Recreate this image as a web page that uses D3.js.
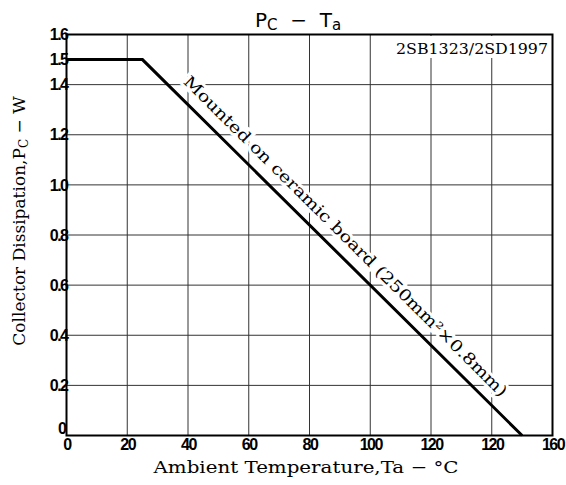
<!DOCTYPE html>
<html>
<head>
<meta charset="utf-8">
<script src="https://cdn.jsdelivr.net/npm/d3@7"></script>
<style>
  body { margin: 0; background: #fff; }
  svg { display: block; }
</style>
</head>
<body>
<div id="chart"></div>
<script>
// derating curve Pc - Ta
const temps = [0, 25, 150];
const power = [1.5, 1.5, 0];

const xTicks = [0, 20, 40, 60, 80, 100, 120, 140, 160];
const xTickLabels = ["0", "20", "40", "60", "80", "100", "120", "120", "160"];
const yGrid = [0.2, 0.4, 0.6, 0.8, 1.0, 1.2, 1.4];
const yTicks = [0, 0.2, 0.4, 0.6, 0.8, 1.0, 1.2, 1.4, 1.5, 1.6];
const yTickLabels = ["0", "0.2", "0.4", "0.6", "0.8", "1.0", "1.2", "1.4", "1.5", "1.6"];

const W = 566, H = 485;
const plot = { left: 66.5, right: 552.5, top: 34.5, bottom: 435.5 };

const svg = d3.select("#chart").append("svg")
    .attr("width", W)
    .attr("height", H);

// scales
const x = d3.scaleLinear().domain([0, 160]).range([plot.left, plot.right]);
const y = d3.scaleLinear().domain([0, 1.6]).range([plot.bottom, plot.top]);

// grid
svg.append("g").selectAll("line.v")
    .data(xTicks.slice(1, -1))
    .join("line")
    .attr("x1", d => x(d)).attr("x2", d => x(d))
    .attr("y1", plot.top).attr("y2", plot.bottom)
    .attr("stroke", "#333").attr("stroke-width", 1);

svg.append("g").selectAll("line.h")
    .data(yGrid)
    .join("line")
    .attr("x1", plot.left).attr("x2", plot.right)
    .attr("y1", d => y(d)).attr("y2", d => y(d))
    .attr("stroke", "#333").attr("stroke-width", 1);

// part number box (covers grid)
svg.append("rect")
    .attr("x", 394).attr("y", plot.top + 1.5)
    .attr("width", plot.right - 395.5).attr("height", 22)
    .attr("fill", "#fff");
svg.append("text")
    .attr("x", 396).attr("y", 54)
    .attr("font-family", "DejaVu Serif")
    .attr("font-size", 15)
    .attr("textLength", 152)
    .attr("lengthAdjust", "spacingAndGlyphs")
    .text("2SB1323/2SD1997");

// curve label, along the slope
const p1 = [x(temps[1]), y(power[1])], p2 = [x(temps[2]), y(power[2])];
const ang = Math.atan2(p2[1] - p1[1], p2[0] - p1[0]);
const t = 0.5;
const mx = p1[0] + (p2[0] - p1[0]) * t, my = p1[1] + (p2[1] - p1[1]) * t;
const off = 9;
const lx = mx + off * Math.sin(ang), ly = my - off * Math.cos(ang);
svg.append("text")
    .attr("transform", `translate(${lx + 3},${ly - 1}) rotate(${ang * 180 / Math.PI})`)
    .attr("text-anchor", "middle")
    .attr("font-family", "DejaVu Serif")
    .attr("font-size", 16)
    .attr("textLength", 448)
    .attr("lengthAdjust", "spacingAndGlyphs")
    .attr("stroke", "#fff").attr("stroke-width", 6)
    .attr("paint-order", "stroke")
    .attr("fill", "#000")
    .text("Mounted on ceramic board (250mm²×0.8mm)");

// data line
const line = d3.line().x((d, i) => x(temps[i])).y((d, i) => y(power[i]));
svg.append("path")
    .datum(temps)
    .attr("d", line)
    .attr("fill", "none")
    .attr("stroke", "#000")
    .attr("stroke-width", 3);

// frame
svg.append("rect")
    .attr("x", plot.left).attr("y", plot.top)
    .attr("width", plot.right - plot.left).attr("height", plot.bottom - plot.top)
    .attr("fill", "none").attr("stroke", "#000").attr("stroke-width", 2);

// axes (tick labels only)
const xAxis = d3.axisBottom(x)
    .tickValues(xTicks)
    .tickSize(0)
    .tickPadding(3)
    .tickFormat((d, i) => xTickLabels[i]);
const gx = svg.append("g")
    .attr("transform", `translate(0,${plot.bottom})`)
    .call(xAxis);
gx.select(".domain").remove();
gx.selectAll("text")
    .attr("font-family", "Liberation Sans")
    .attr("font-weight", "bold")
    .attr("font-size", 16)
    .attr("letter-spacing", -1.5)
    .attr("fill", "#000");

const yAxis = d3.axisLeft(y)
    .tickValues(yTicks)
    .tickSize(0)
    .tickPadding(1)
    .tickFormat((d, i) => yTickLabels[i]);
const gy = svg.append("g")
    .attr("transform", `translate(${plot.left + 2},0)`)
    .call(yAxis);
gy.select(".domain").remove();
gy.selectAll("text")
    .attr("font-family", "Liberation Sans")
    .attr("font-weight", "bold")
    .attr("font-size", 16)
    .attr("letter-spacing", -1.5)
    .attr("fill", "#000");
// the "0" label sits a little above the x labels
gy.selectAll(".tick").filter(d => d === 0).select("text")
    .attr("dy", "-0.1em")
    .attr("x", -3);

// title
const title = svg.append("text")
    .attr("x", 255).attr("y", 27)
    .attr("font-family", "DejaVu Sans")
    .attr("font-size", 20)
    .attr("fill", "#000");
title.append("tspan").text("P");
title.append("tspan").attr("font-size", 15).attr("dy", 3).text("C");
title.append("tspan").attr("dy", -3).text("\u00a0\u00a0\u2212\u00a0\u00a0T");
title.append("tspan").attr("font-size", 15).attr("dy", 3).text("a");

// axis titles
svg.append("text")
    .attr("x", 306).attr("y", 473)
    .attr("text-anchor", "middle")
    .attr("font-family", "DejaVu Serif")
    .attr("font-size", 17)
    .attr("textLength", 305)
    .attr("lengthAdjust", "spacingAndGlyphs")
    .text("Ambient Temperature,Ta \u2212 \u00b0C");

const ylab = svg.append("text")
    .attr("transform", "translate(25,221) rotate(-90)")
    .attr("text-anchor", "middle")
    .attr("font-family", "DejaVu Serif")
    .attr("font-size", 17);
ylab.append("tspan").text("Collector Dissipation,P");
ylab.append("tspan").attr("font-size", 12).attr("dy", 3).text("C");
ylab.append("tspan").attr("dy", -3).text(" \u2212 W");
</script>
</body>
</html>
